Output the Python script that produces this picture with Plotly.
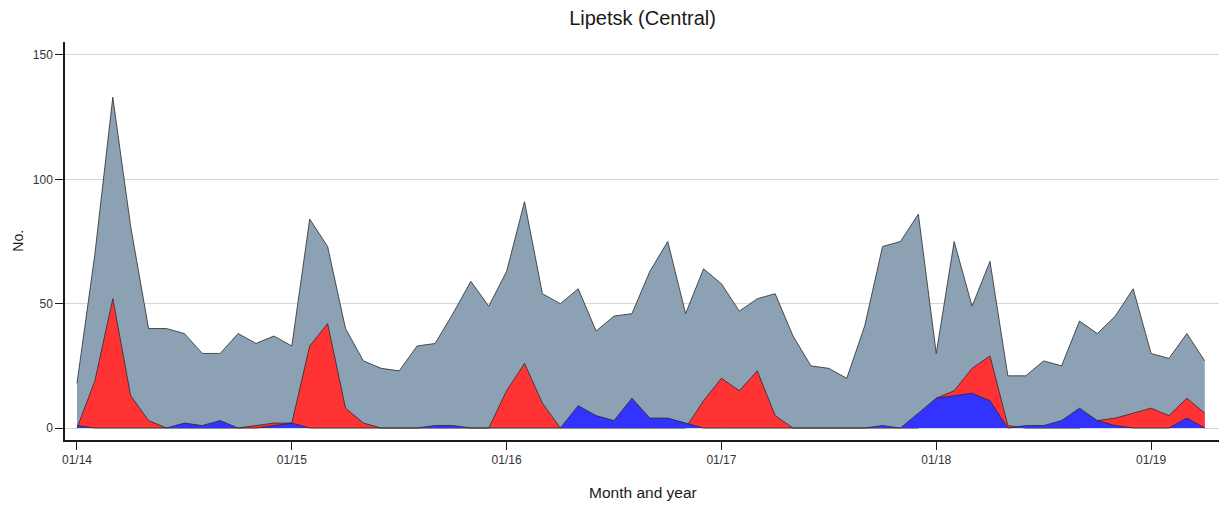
import plotly.graph_objects as go

# Monthly series, Jan 2014 .. Apr 2019 (index 0 = 01/14)
months = list(range(64))
total = [18, 70, 133, 81, 40, 40, 38, 30, 30, 38, 34, 37,
         33, 84, 73, 40, 27, 24, 23, 33, 34, 46, 59, 49,
         63, 91, 54, 50, 56, 39, 45, 46, 63, 75, 46, 64,
         58, 47, 52, 54, 37, 25, 24, 20, 41, 73, 75, 86,
         30, 75, 49, 67, 21, 21, 27, 25, 43, 38, 45, 56,
         30, 28, 38, 27]
red_series = [0, 19, 52, 13, 3, 0, 0, 0, 0, 0, 1, 2,
              2, 33, 42, 8, 2, 0, 0, 0, 0, 0, 0, 0,
              15, 26, 10, 0, 0, 0, 0, 0, 0, 0, 0, 11,
              20, 15, 23, 5, 0, 0, 0, 0, 0, 0, 0, 0,
              12, 15, 24, 29, 1, 0, 0, 0, 0, 3, 4, 6,
              8, 5, 12, 6]
blue_series = [1, 0, 0, 0, 0, 0, 2, 1, 3, 0, 0, 1,
               2, 0, 0, 0, 0, 0, 0, 0, 1, 1, 0, 0,
               0, 0, 0, 0, 9, 5, 3, 12, 4, 4, 2, 0,
               0, 0, 0, 0, 0, 0, 0, 0, 0, 1, 0, 6,
               12, 13, 14, 11, 0, 1, 1, 3, 8, 3, 1, 0,
               0, 0, 4, 0]
tick_positions = [0, 12, 24, 36, 48, 60]
tick_labels = ["01/14", "01/15", "01/16", "01/17", "01/18", "01/19"]
y_ticks = [0, 50, 100, 150]

font_family = "Liberation Sans, Arial, sans-serif"
edge = dict(color="#2a2a2a", width=0.8)

fig = go.Figure()
fig.add_trace(go.Scatter(x=months, y=total, mode="lines", fill="tozeroy",
                         fillcolor="#8DA1B4", line=edge, showlegend=False))
fig.add_trace(go.Scatter(x=months, y=red_series, mode="lines", fill="tozeroy",
                         fillcolor="#FF3333", line=edge, showlegend=False))
fig.add_trace(go.Scatter(x=months, y=blue_series, mode="lines", fill="tozeroy",
                         fillcolor="#3333FF", line=edge, showlegend=False))

fig.update_layout(
    width=1219, height=500,
    margin=dict(l=57, r=7, t=34, b=68),
    paper_bgcolor="white", plot_bgcolor="white",
    font=dict(family=font_family, color="#333333", size=12),
    title=dict(text="Lipetsk (Central)", x=0.5, xref="paper", xanchor="center",
               y=0.98, yref="container", yanchor="middle",
               font=dict(size=20, color="#1a1a1a", family=font_family)),
    xaxis=dict(range=[-0.67, 63.85], tickvals=tick_positions, ticktext=tick_labels,
               showgrid=False, zeroline=False, showline=True, linecolor="#1a1a1a",
               linewidth=1.5, ticks="outside", ticklen=8, tickcolor="#1a1a1a",
               tickwidth=1.2, tickfont=dict(size=12, color="#333333")),
    yaxis=dict(range=[-4.8, 155.2], tickvals=y_ticks,
               showgrid=True, gridcolor="#d6d6d6", gridwidth=1, zeroline=False,
               showline=True, linecolor="#1a1a1a", linewidth=1.5,
               ticks="outside", ticklen=8, tickcolor="#1a1a1a", tickwidth=1.2,
               tickfont=dict(size=12, color="#333333")),
    annotations=[
        dict(text="Month and year", x=0.5, xref="paper", y=-0.133, yref="paper",
             xanchor="center", yanchor="middle", showarrow=False,
             font=dict(size=15.5, color="#1a1a1a", family=font_family)),
        dict(text="No.", x=-0.041, xref="paper", y=0.5, yref="paper",
             xanchor="center", yanchor="middle", showarrow=False, textangle=-90,
             font=dict(size=14, color="#1a1a1a", family=font_family)),
    ],
)

fig.write_html("out.html")
